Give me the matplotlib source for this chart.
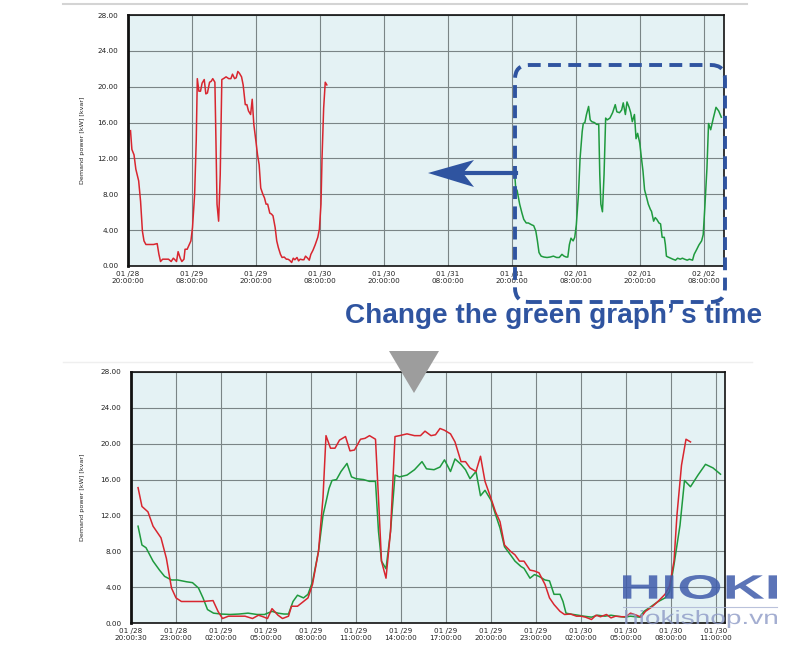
import numpy as np
import matplotlib
matplotlib.use("Agg")
import matplotlib.pyplot as plt
from matplotlib.patches import FancyBboxPatch, Polygon, PathPatch
from matplotlib.lines import Line2D
from matplotlib.textpath import TextPath
from matplotlib.font_manager import FontProperties
from matplotlib.transforms import Affine2D, IdentityTransform

# demand readings, hours after 01/28 20:00
red_h = [0.47, 0.73, 1.13, 1.47, 2.0, 2.36, 2.7, 3.0, 3.36, 3.8, 4.3, 4.8, 5.47, 5.8, 6.1,
         6.5, 7.0, 7.6, 8.1, 8.5, 8.8, 9.1, 9.4, 9.8, 10.1, 10.5, 10.7, 11.1, 11.5, 11.8,
         12.1, 12.5, 12.8, 13.0, 13.3, 13.6, 13.9, 14.3, 14.6, 14.9, 15.3, 15.6, 15.9, 16.3,
         16.5, 16.7, 17.0, 17.3, 17.6, 17.9, 18.4, 18.9, 19.3, 19.6, 20.0, 20.3, 20.6, 20.9,
         21.3, 21.6, 22.0, 22.3, 22.6, 23.0, 23.3, 23.6, 24.0, 24.3, 24.6, 24.9, 25.3, 25.6,
         25.9, 26.2, 26.6, 26.9, 27.2, 27.6, 27.9, 28.2, 28.6, 28.9, 29.3, 29.7, 30.0, 30.3,
         30.7, 31.0, 31.3, 31.7, 32.0, 32.3, 32.7, 33.0, 33.3, 33.7, 34.0, 34.3, 34.7, 35.1,
         35.6, 35.9, 36.2, 36.4, 36.7, 37.0, 37.3]
red_kw = [15.1, 13.0, 12.4, 10.8, 9.5, 7.2, 3.9, 2.8, 2.4, 2.4, 2.4, 2.4, 2.5, 1.3, 0.5,
          0.76, 0.76, 0.76, 0.5, 0.87, 0.7, 0.5, 1.6, 0.87, 0.5, 0.76, 1.87, 1.87, 2.4, 2.8,
          4.3, 8.0, 14.0, 20.9, 19.5, 19.5, 20.4, 20.8, 19.2, 19.3, 20.5, 20.6, 20.9, 20.5,
          13.9, 6.9, 5.0, 10.2, 20.8, 20.9, 21.1, 20.9, 20.9, 21.4, 20.9, 21.0, 21.7, 21.5,
          21.1, 20.2, 18.0, 18.0, 17.3, 16.9, 18.6, 15.8, 13.9, 12.4, 11.3, 8.7, 8.0, 7.6,
          6.9, 6.9, 5.9, 5.8, 5.6, 4.3, 2.8, 2.06, 1.3, 0.95, 1.0, 0.76, 0.76, 0.65,
          0.39, 0.87, 0.7, 0.95, 0.57, 0.76, 0.7, 0.7, 1.1, 0.87, 0.65, 1.3, 1.76, 2.35,
          3.2, 4.1, 6.9, 12.1, 17.6, 20.5, 20.2]

green_h = [0.47, 0.73, 1.0, 1.47, 1.9, 2.24, 2.7, 3.1, 3.7, 4.1, 4.5, 4.8, 5.1, 5.5, 6.0,
           6.6, 7.2, 7.8, 8.4, 8.9, 9.4, 9.8, 10.2, 10.5, 10.8, 11.1, 11.5, 11.8, 12.1, 12.5,
           12.8, 13.2, 13.4, 13.7, 14.0, 14.4, 14.7, 15.0, 15.5, 15.9, 16.3, 16.5, 16.7, 17.0,
           17.3, 17.6, 17.9, 18.4, 18.9, 19.4, 19.7, 20.2, 20.6, 20.9, 21.3, 21.6, 22.0, 22.3,
           22.6, 23.0, 23.3, 23.6, 24.0, 24.3, 24.6, 24.9, 25.3, 25.6, 26.0, 26.2, 26.6, 26.9,
           27.2, 27.6, 27.9, 28.2, 28.6, 28.8, 29.0, 29.3, 29.8, 30.2, 30.7, 31.1, 31.6, 32.0,
           32.4, 32.9, 33.3, 33.9, 34.2, 34.7, 35.1, 35.6, 35.9, 36.2, 36.6, 36.9, 37.3, 37.8,
           38.3, 38.8, 39.3]
green_kw = [10.8, 8.7, 8.4, 6.9, 5.9, 5.2, 4.8, 4.8, 4.6, 4.5, 3.9, 2.8, 1.5, 1.1, 1.0,
            0.95, 1.0, 1.1, 0.95, 0.95, 1.3, 1.1, 1.0, 1.0, 2.4, 3.1, 2.8, 3.2, 4.6, 8.0,
            12.0, 15.0, 15.9, 16.0, 16.9, 17.8, 16.3, 16.1, 16.0, 15.8, 15.8, 10.2, 6.9, 6.05,
            10.2, 16.5, 16.3, 16.5, 17.1, 18.0, 17.2, 17.1, 17.4, 18.2, 16.9, 18.3, 17.7, 17.1,
            16.1, 16.9, 14.2, 14.8, 13.7, 12.1, 10.6, 8.5, 7.6, 6.9, 6.3, 6.1, 5.0, 5.4,
            5.2, 4.8, 4.7, 3.2, 3.2, 2.4, 1.1, 1.0, 0.87, 0.76, 0.65, 0.87, 0.76, 0.87,
            0.76, 0.65, 0.76, 0.65, 1.3, 1.87, 2.35, 2.8, 3.5, 6.5, 10.9, 15.9, 15.2, 16.5,
            17.7, 17.3, 16.6]

# green was logged 3 days later than red
green_offset = 72

top_ticks = [0, 12, 24, 36, 48, 60, 72, 84, 96, 108]
top_labels = ["01 /28\n20:00:00", "01 /29\n08:00:00", "01 /29\n20:00:00", "01 /30\n08:00:00",
              "01 /30\n20:00:00", "01 /31\n08:00:00", "01 /31\n20:00:00", "02 /01\n08:00:00",
              "02 /01\n20:00:00", "02 /02\n08:00:00"]
bot_ticks = [0, 3, 6, 9, 12, 15, 18, 21, 24, 27, 30, 33, 36, 39]
bot_labels = ["01 /28\n20:00:30", "01 /28\n23:00:00", "01 /29\n02:00:00", "01 /29\n05:00:00",
              "01 /29\n08:00:00", "01 /29\n11:00:00", "01 /29\n14:00:00", "01 /29\n17:00:00",
              "01 /29\n20:00:00", "01 /29\n23:00:00", "01 /30\n02:00:00", "01 /30\n05:00:00",
              "01 /30\n08:00:00", "01 /30\n11:00:00"]
y_ticks = [0, 4, 8, 12, 16, 20, 24, 28]

RED = "#d8262f"
GREEN = "#1f9a3e"
BLUE = "#2f54a0"
H = 654

fig = plt.figure(figsize=(8, 6.54), dpi=100)
fig.patch.set_facecolor("white")


def style(ax, ticks, labels, xmax, lab_x):
    ax.set_facecolor("#e4f2f4")
    ax.set_xlim(0, xmax)
    ax.set_ylim(0, 28)
    ax.set_xticks(ticks)
    ax.set_xticklabels(labels, fontsize=5.2, color="#222222", linespacing=1.15)
    ax.set_yticks(y_ticks)
    ax.set_yticklabels(["%.2f" % v for v in y_ticks], fontsize=5.2, color="#222222")
    ax.tick_params(axis="x", length=0, pad=3.5)
    ax.tick_params(axis="y", length=0, pad=7)
    ax.grid(True, color="#7a8586", linewidth=0.8)
    ax.set_axisbelow(True)
    for s in ["top", "right", "bottom"]:
        ax.spines[s].set_linewidth(1.2)
        ax.spines[s].set_color("#111111")
    ax.spines["left"].set_linewidth(2.0)
    ax.spines["left"].set_color("#111111")
    ax.set_ylabel("Demand power [kW] [kvar]", fontsize=4.6, color="#222222")
    ax.yaxis.set_label_coords(lab_x, 0.5)


ax1 = fig.add_axes([128 / 800, 1 - 266 / H, 596 / 800, 251 / H])
style(ax1, top_ticks, top_labels, 111.8, -0.072)
ax1.plot(red_h, red_kw, color=RED, lw=1.1)
ax1.plot(np.array(green_h) + green_offset, green_kw, color=GREEN, lw=1.1)

ax2 = fig.add_axes([131 / 800, 1 - 623 / H, 594 / 800, 251 / H])
style(ax2, bot_ticks, bot_labels, 39.6, -0.0774)
ax2.plot(green_h, green_kw, color=GREEN, lw=1.1)
ax2.plot(red_h, red_kw, color=RED, lw=1.1)

# light separator lines
fig.add_artist(Line2D([63, 747], [H - 4, H - 4], transform=IdentityTransform(),
                      color="#d4d4d4", lw=1.5))
fig.add_artist(Line2D([63, 752], [H - 362, H - 362], transform=IdentityTransform(),
                      color="#efefef", lw=1.0))

# dashed rounded box around the green trace
box = FancyBboxPatch((515, H - 302), 210, 237, boxstyle="round,pad=0,rounding_size=14",
                     transform=IdentityTransform(), fill=False, ec=BLUE, lw=2.8,
                     linestyle=(0, (3.3, 1.9)), zorder=4)
fig.add_artist(box)

# arrow pointing left
fig.add_artist(Line2D([462, 516], [H - 173, H - 173], transform=IdentityTransform(),
                      color=BLUE, lw=3.0, zorder=4))
fig.add_artist(Polygon([(428, H - 173), (474, H - 160), (463, H - 173), (474, H - 187)],
                       closed=True, transform=IdentityTransform(), fc=BLUE, ec="none", zorder=4))

fig.text(345 / 800, 1 - 323 / H, "Change the green graph\u2019 s time", fontsize=20.2,
         fontweight="bold", color=BLUE, family="Liberation Sans", va="baseline")

# grey down triangle
fig.add_artist(Polygon([(389, H - 351), (439, H - 351), (414, H - 393)], closed=True,
                       transform=IdentityTransform(), fc="#9d9d9d", ec="none", zorder=4))


def logo_text(s, x0, x1, ytop, ybot, weight, color, alpha):
    tp = TextPath((0, 0), s, size=10, prop=FontProperties(family="Liberation Sans", weight=weight))
    bb = tp.get_extents()
    sx = (x1 - x0) / bb.width
    sy = (ybot - ytop) / bb.height
    tr = Affine2D().translate(-bb.x0, -bb.y0).scale(sx, sy).translate(x0, H - ybot)
    fig.add_artist(PathPatch(tp, transform=tr, fc=color, ec="none", alpha=alpha, zorder=5))


logo_text("HIOKI", 623, 777, 575, 599, "bold", "#3f5cab", 0.85)
fig.add_artist(Line2D([623, 777], [H - 607, H - 607], transform=IdentityTransform(),
                      color="#a9b3d3", lw=0.8, alpha=0.8, zorder=5))
logo_text("hiokishop.vn", 625, 777, 610, 628, "normal", "#8d9ac6", 0.8)

fig.savefig("out.png", dpi=100)
